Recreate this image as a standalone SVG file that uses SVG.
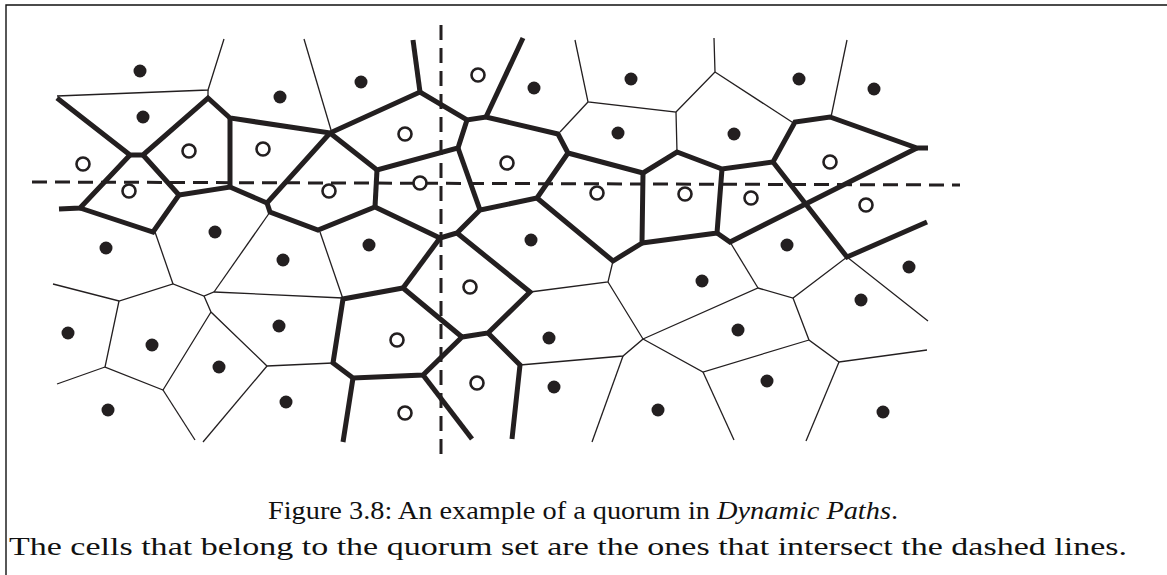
<svg xmlns="http://www.w3.org/2000/svg" width="1167" height="575" viewBox="0 0 1167 575">
<style>
.thick{fill:none;stroke:#231f20;stroke-width:5;stroke-linejoin:miter;stroke-miterlimit:4;stroke-linecap:butt}
.thin{fill:none;stroke:#231f20;stroke-width:1.3}
.dot{fill:#231f20}
.open{fill:#fff;stroke:#231f20;stroke-width:2.6}
.dash{fill:none;stroke:#231f20;stroke-width:3;stroke-dasharray:15 8}
.frame{fill:none;stroke:#111;stroke-width:1.4}
.cap{font-family:"Liberation Serif",serif;fill:#111}
</style>
<rect width="1167" height="575" fill="#fff"/>
<polyline class="frame" points="6,575 6,5 1167,5"/>
<g id="connectors">
<g id="thin-edges">
<polyline class="thin" points="57,96 208,90 224,39"/>
<polyline class="thin" points="208,90 208,98"/>
<polyline class="thin" points="304,39 331,130"/>
<polyline class="thin" points="575,40 588,102 676,112 677,152"/>
<polyline class="thin" points="588,102 560,132"/>
<polyline class="thin" points="714,38 715,72 676,112"/>
<polyline class="thin" points="715,72 795,124"/>
<polyline class="thin" points="847,40 831,117"/>
<polyline class="thin" points="155,232 173,284"/>
<polyline class="thin" points="270,212 214,292"/>
<polyline class="thin" points="320,232 343,299"/>
<polyline class="thin" points="53,284 119,301 173,284 204,296 214,292 343,298"/>
<polyline class="thin" points="204,296 211,312 267,366 333,363"/>
<polyline class="thin" points="119,301 105,367 163,390 211,312"/>
<polyline class="thin" points="57,384 105,367"/>
<polyline class="thin" points="163,390 195,440"/>
<polyline class="thin" points="267,366 203,442"/>
<polyline class="thin" points="530,292 608,282 613,261"/>
<polyline class="thin" points="608,282 643,339 623,356 520,365"/>
<polyline class="thin" points="623,356 592,442"/>
<polyline class="thin" points="643,339 758,288 793,298 847,257 928,321"/>
<polyline class="thin" points="730,242 758,288"/>
<polyline class="thin" points="793,298 809,340 839,362 927,350"/>
<polyline class="thin" points="839,362 806,441"/>
<polyline class="thin" points="809,340 703,372 643,339"/>
<polyline class="thin" points="703,372 734,440"/>
</g>
<g id="thick-edges">
<polyline class="thick" points="57,98 130,155 143,155 208,98 230,118 330,133 420,92 467,120 486,117 558,134 568,153 643,173 677,152 722,169 773,162 795,122 830,117 917,148 928,148"/>
<polyline class="thick" points="59,209 80,208 130,155"/>
<polyline class="thick" points="80,208 153,232 179,195 143,155"/>
<polyline class="thick" points="179,195 230,187 267,203 330,133"/>
<polyline class="thick" points="230,118 230,187"/>
<polyline class="thick" points="267,203 270,212 318,230 375,207 440,238 457,233 480,210 537,198 568,153"/>
<polyline class="thick" points="413,40 420,92"/>
<polyline class="thick" points="486,117 523,38"/>
<polyline class="thick" points="467,120 458,148 377,170 330,133"/>
<polyline class="thick" points="377,170 375,207"/>
<polyline class="thick" points="458,148 480,210"/>
<polyline class="thick" points="643,173 642,243 613,261 537,198"/>
<polyline class="thick" points="642,243 717,233 722,169"/>
<polyline class="thick" points="917,148 730,242 717,233"/>
<polyline class="thick" points="773,162 847,257 927,222"/>
<polyline class="thick" points="403,288 440,238"/>
<polyline class="thick" points="457,233 530,292 488,333 462,337 403,288 343,299 333,363 353,378 423,375 462,337"/>
<polyline class="thick" points="423,375 472,439"/>
<polyline class="thick" points="353,378 343,442"/>
<polyline class="thick" points="488,333 520,365 512,439"/>
</g>
<g id="dashed-lines">
<line class="dash" x1="32" y1="182" x2="960" y2="185"/>
<line class="dash" x1="441" y1="25" x2="441" y2="457"/>
</g>
</g>
<g id="sites-filled">
<circle class="dot" cx="140" cy="71" r="6.5"/>
<circle class="dot" cx="143" cy="117" r="6.5"/>
<circle class="dot" cx="280" cy="97" r="6.5"/>
<circle class="dot" cx="215" cy="232" r="6.5"/>
<circle class="dot" cx="106" cy="248" r="6.5"/>
<circle class="dot" cx="361" cy="82" r="6.5"/>
<circle class="dot" cx="534" cy="88" r="6.5"/>
<circle class="dot" cx="631" cy="79" r="6.5"/>
<circle class="dot" cx="618" cy="133" r="6.5"/>
<circle class="dot" cx="369" cy="245" r="6.5"/>
<circle class="dot" cx="531" cy="240" r="6.5"/>
<circle class="dot" cx="799" cy="79" r="6.5"/>
<circle class="dot" cx="874" cy="89" r="6.5"/>
<circle class="dot" cx="734" cy="134" r="6.5"/>
<circle class="dot" cx="787" cy="245" r="6.5"/>
<circle class="dot" cx="283" cy="260" r="6.5"/>
<circle class="dot" cx="68" cy="333" r="6.5"/>
<circle class="dot" cx="152" cy="345" r="6.5"/>
<circle class="dot" cx="279" cy="326" r="6.5"/>
<circle class="dot" cx="219" cy="367" r="6.5"/>
<circle class="dot" cx="108" cy="410" r="6.5"/>
<circle class="dot" cx="286" cy="402" r="6.5"/>
<circle class="dot" cx="549" cy="338" r="6.5"/>
<circle class="dot" cx="554" cy="387" r="6.5"/>
<circle class="dot" cx="658" cy="410" r="6.5"/>
<circle class="dot" cx="702" cy="281" r="6.5"/>
<circle class="dot" cx="909" cy="267" r="6.5"/>
<circle class="dot" cx="861" cy="300" r="6.5"/>
<circle class="dot" cx="738" cy="330" r="6.5"/>
<circle class="dot" cx="767" cy="381" r="6.5"/>
<circle class="dot" cx="883" cy="412" r="6.5"/>
</g>
<g id="sites-quorum">
<circle class="open" cx="83" cy="164" r="6.5"/>
<circle class="open" cx="189" cy="151" r="6.5"/>
<circle class="open" cx="263" cy="149" r="6.5"/>
<circle class="open" cx="129" cy="191" r="6.5"/>
<circle class="open" cx="329" cy="191" r="6.5"/>
<circle class="open" cx="478" cy="75" r="6.5"/>
<circle class="open" cx="405" cy="134" r="6.5"/>
<circle class="open" cx="507" cy="163" r="6.5"/>
<circle class="open" cx="420" cy="183" r="6.5"/>
<circle class="open" cx="597" cy="193" r="6.5"/>
<circle class="open" cx="830" cy="162" r="6.5"/>
<circle class="open" cx="685" cy="194" r="6.5"/>
<circle class="open" cx="751" cy="198" r="6.5"/>
<circle class="open" cx="866" cy="205" r="6.5"/>
<circle class="open" cx="470" cy="287" r="6.5"/>
<circle class="open" cx="397" cy="340" r="6.5"/>
<circle class="open" cx="477" cy="383" r="6.5"/>
<circle class="open" cx="405" cy="413" r="6.5"/>
</g>
<g id="caption">
<text class="cap" x="268" y="519" font-size="26" textLength="630" lengthAdjust="spacingAndGlyphs">Figure 3.8: An example of a quorum in <tspan font-style="italic">Dynamic Paths</tspan>.</text>
<text class="cap" x="9" y="555" font-size="26" textLength="1118" lengthAdjust="spacingAndGlyphs">The cells that belong to the quorum set are the ones that intersect the dashed lines.</text>
</g>
</svg>
